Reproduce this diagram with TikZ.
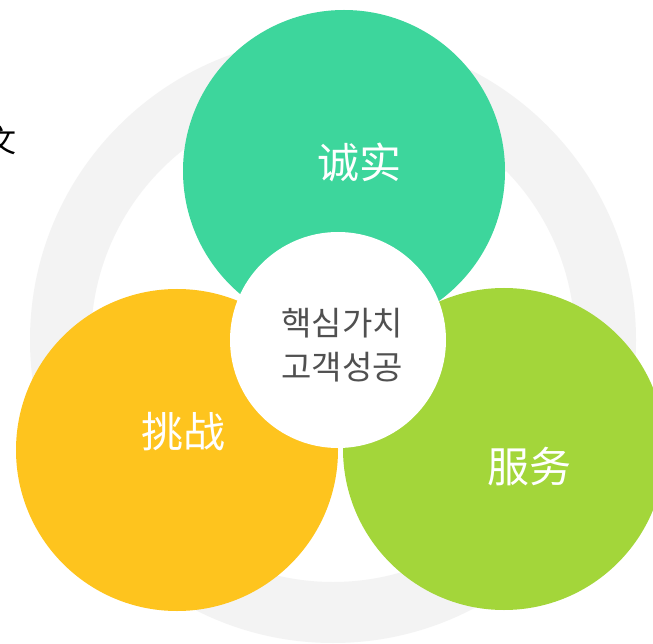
\documentclass[tikz,border=0pt]{standalone}
\usepackage{fontspec}
\newfontfamily\cjk{Noto Sans CJK SC}
\newfontfamily\kor{Noto Sans CJK KR}
\usetikzlibrary{positioning}

\definecolor{honestgreen}{RGB}{61,214,156}
\definecolor{challengeyellow}{RGB}{254,196,30}
\definecolor{servicegreen}{RGB}{163,214,58}
\definecolor{ringgrey}{RGB}{243,243,243}
\definecolor{coregrey}{RGB}{80,80,80}

\tikzset{
  valuecircle/.style={circle, inner sep=0pt, minimum size=322pt},
  valuetext/.style={text=white, font=\cjk\fontsize{42}{48}\selectfont},
  coretext/.style={text=coregrey, align=center, font=\kor\fontsize{33}{44}\selectfont}
}

\begin{document}
\begin{tikzpicture}[x=1pt,y=-1pt]
	\fill[white] (0,0) rectangle (653,644);
	\useasboundingbox (0,0) rectangle (653,644);
	% the grey ring behind everything
	\fill[ringgrey, even odd rule] (333,340) circle[radius=303pt] (333,340) circle[radius=242pt];

	\node[valuecircle, fill=honestgreen] (honest) at (344,171) {};
	\node[valuecircle, fill=challengeyellow] (challenge) at (177,450) {};
	\node[valuecircle, fill=servicegreen] (service) at (504,449) {};
	% white core on top of the three circles
	\node[circle, inner sep=0pt, minimum size=216pt, fill=white] (core) at (338,340) {};

	\node[valuetext] (honestlabel) at (359,162) {诚实};
	\node[valuetext] (challengelabel) at (183,432) {挑战};
	\node[valuetext] (servicelabel) at (529,467) {服务};
	\node[coretext] (corelabel) at (342,345) {핵심가치\\고객성공};

	\node[font=\cjk\fontsize{31}{36}\selectfont] (side) at (1,141) {文};
\end{tikzpicture}
\end{document}
